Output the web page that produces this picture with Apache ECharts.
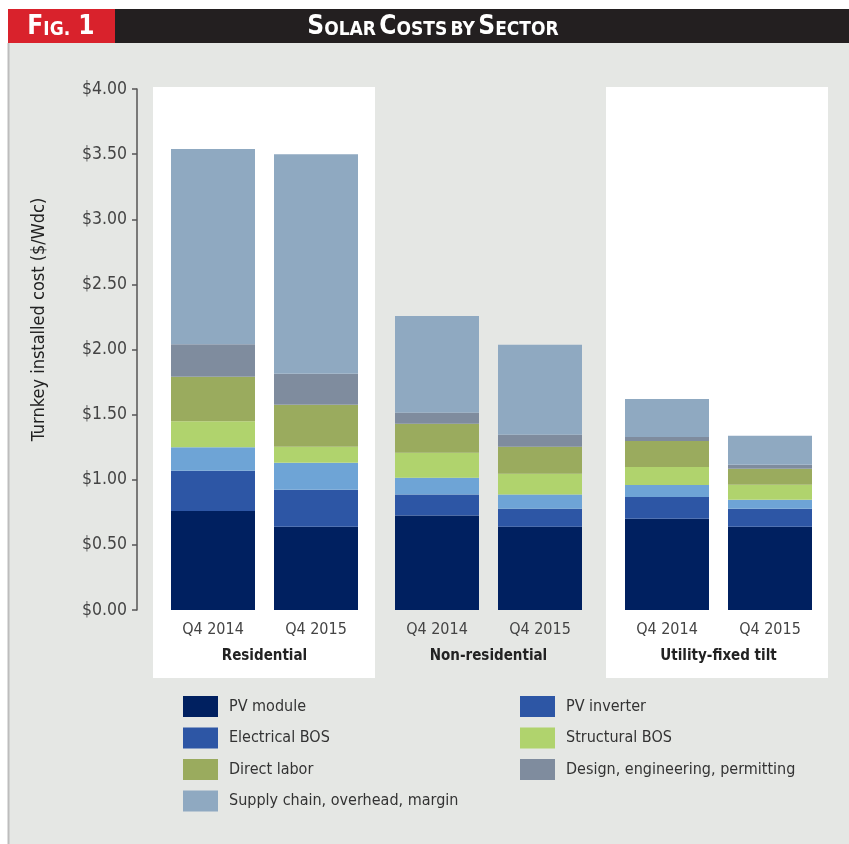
<!DOCTYPE html>
<html>
<head>
<meta charset="utf-8">
<script src="https://cdn.jsdelivr.net/npm/echarts@6/dist/echarts.min.js"></script>
<style>
html,body{margin:0;padding:0;background:#fff;}
#chart{width:849px;height:844px;}
</style>
</head>
<body>
<div id="chart"></div>
<script>
// ---- data ----
var sectors = ['Residential', 'Non-residential', 'Utility-fixed tilt'];
var periods = ['Q4 2014', 'Q4 2015'];
var componentNames = ['PV module', 'PV inverter', 'Electrical BOS', 'Structural BOS', 'Direct labor', 'Design, engineering, permitting', 'Supply chain, overhead, margin'];
// values order: Residential 2014, 2015, Non-res 2014, 2015, Utility 2014, 2015 ($/Wdc)
var pvModule      = [0.76, 0.64, 0.725, 0.64, 0.70, 0.64];
var pvInverter    = [0.31, 0.284, 0.161, 0.138, 0.168, 0.138];
var electricalBOS = [0.18, 0.207, 0.13, 0.108, 0.092, 0.069];
var structuralBOS = [0.20, 0.123, 0.192, 0.161, 0.138, 0.115];
var directLabor   = [0.34, 0.322, 0.222, 0.207, 0.20, 0.123];
var designEng     = [0.25, 0.237, 0.085, 0.092, 0.031, 0.031];
var supplyChain   = [1.50, 1.687, 0.743, 0.69, 0.291, 0.222];
var yTicks = [0, 0.5, 1, 1.5, 2, 2.5, 3, 3.5, 4];

// ---- styles ----
var componentValues = [pvModule, pvInverter, electricalBOS, structuralBOS, directLabor, designEng, supplyChain];
var colors = ['#002060', '#2d56a5', '#6ea4d6', '#b0d36d', '#9aab5e', '#7f8c9e', '#8fa9c1'];
var legendColors = ['#002060', '#2d56a5', '#2d56a5', '#b0d36d', '#9aab5e', '#7f8c9e', '#8fa9c1'];
var FONT = "'DejaVu Sans Condensed', 'Liberation Sans Narrow', sans-serif";

var gridLefts = [161.5, 385.5, 615.5];
var grids = [], xAxes = [], yAxes = [], series = [];
sectors.forEach(function (sec, gi) {
  grids.push({left: gridLefts[gi], top: 89, width: 206, height: 521, containLabel: false});
  xAxes.push({
    type: 'category', gridIndex: gi, data: periods,
    axisLine: {show: false}, axisTick: {show: false},
    axisLabel: {fontFamily: FONT, fontSize: 16, color: '#444', margin: 12},
    name: sec, nameLocation: 'middle', nameGap: 39,
    nameTextStyle: {fontFamily: FONT, fontSize: 15, fontWeight: 'bold', color: '#222'}
  });
  if (gi === 0) {
    yAxes.push({
      type: 'value', gridIndex: 0, min: yTicks[0], max: yTicks[yTicks.length - 1], interval: 0.5,
      offset: 24.5,
      axisLine: {show: true, lineStyle: {color: '#555', width: 1.5}},
      axisTick: {show: true, length: 5, lineStyle: {color: '#555', width: 1.5}},
      splitLine: {show: false},
      axisLabel: {fontFamily: FONT, fontSize: 17.5, color: '#444', margin: 10,
        formatter: function (v) { return '$' + v.toFixed(2); }},
      name: 'Turnkey installed cost ($/Wdc)', nameLocation: 'middle', nameGap: 89,
      nameTextStyle: {fontFamily: FONT, fontSize: 18, color: '#222', padding: [0, 0, 0, 60]}
    });
  } else {
    yAxes.push({type: 'value', gridIndex: gi, min: yTicks[0], max: yTicks[yTicks.length - 1], interval: 0.5, show: false});
  }
  componentNames.forEach(function (cn, ci) {
    series.push({
      type: 'bar', name: cn, stack: 'sector' + gi,
      xAxisIndex: gi, yAxisIndex: gi,
      barWidth: 84,
      itemStyle: {color: colors[ci]},
      data: componentValues[ci].slice(gi * 2, gi * 2 + 2),
      emphasis: {disabled: true}
    });
  });
});

function legendItem(i) {
  return {name: componentNames[i], itemStyle: {color: legendColors[i]}};
}
var legendCommon = {
  orient: 'vertical', itemWidth: 35, itemHeight: 21, itemGap: 10.5, icon: 'rect',
  selectedMode: false, padding: 0,
  textStyle: {fontFamily: FONT, fontSize: 16, color: '#333', padding: [0, 0, 0, 6]}
};

var option = {
  animation: false,
  backgroundColor: '#ffffff',
  grid: grids, xAxis: xAxes, yAxis: yAxes, series: series,
  legend: [
    Object.assign({left: 183, top: 696, data: [0, 2, 4, 6].map(legendItem)}, legendCommon),
    Object.assign({left: 520, top: 696, data: [1, 3, 5].map(legendItem)}, legendCommon)
  ],
  graphic: [
    {type: 'rect', z: -10, shape: {x: 8, y: 43, width: 841, height: 801}, style: {fill: '#e5e7e4'}},
    {type: 'line', z: -9, shape: {x1: 8.5, y1: 43, x2: 8.5, y2: 844}, style: {stroke: '#bdbdbd', lineWidth: 2}},
    {type: 'rect', z: -8, shape: {x: 153, y: 87, width: 222, height: 591}, style: {fill: '#ffffff'}},
    {type: 'rect', z: -8, shape: {x: 606, y: 87, width: 222, height: 591}, style: {fill: '#ffffff'}},
    {type: 'rect', z: -8, shape: {x: 8, y: 9, width: 841, height: 34}, style: {fill: '#231f20'}},
    {type: 'rect', z: -7, shape: {x: 8, y: 9, width: 107, height: 34}, style: {fill: '#d9222c'}},
    {type: 'text', z: 5, x: 61, y: 27, style: {
      text: '{b|F}{s|IG.}{b| 1}', align: 'center', verticalAlign: 'middle', fill: '#fff',
      rich: {
        b: {fontFamily: FONT, fontWeight: 'bold', fontSize: 26, fill: '#fff', verticalAlign: 'bottom'},
        s: {fontFamily: FONT, fontWeight: 'bold', fontSize: 19, fill: '#fff', verticalAlign: 'bottom'}
      }}},
    {type: 'text', z: 5, x: 433, y: 27, style: {
      text: '{b|S}{s|OLAR} {b|C}{s|OSTS} {s|BY} {b|S}{s|ECTOR}', align: 'center', verticalAlign: 'middle', fill: '#fff',
      rich: {
        b: {fontFamily: FONT, fontWeight: 'bold', fontSize: 26, fill: '#fff', verticalAlign: 'bottom'},
        s: {fontFamily: FONT, fontWeight: 'bold', fontSize: 19, fill: '#fff', verticalAlign: 'bottom'}
      }}}
  ]
};
var chart = echarts.init(document.getElementById('chart'), null, {renderer: 'canvas'});
chart.setOption(option);
</script>
</body>
</html>
